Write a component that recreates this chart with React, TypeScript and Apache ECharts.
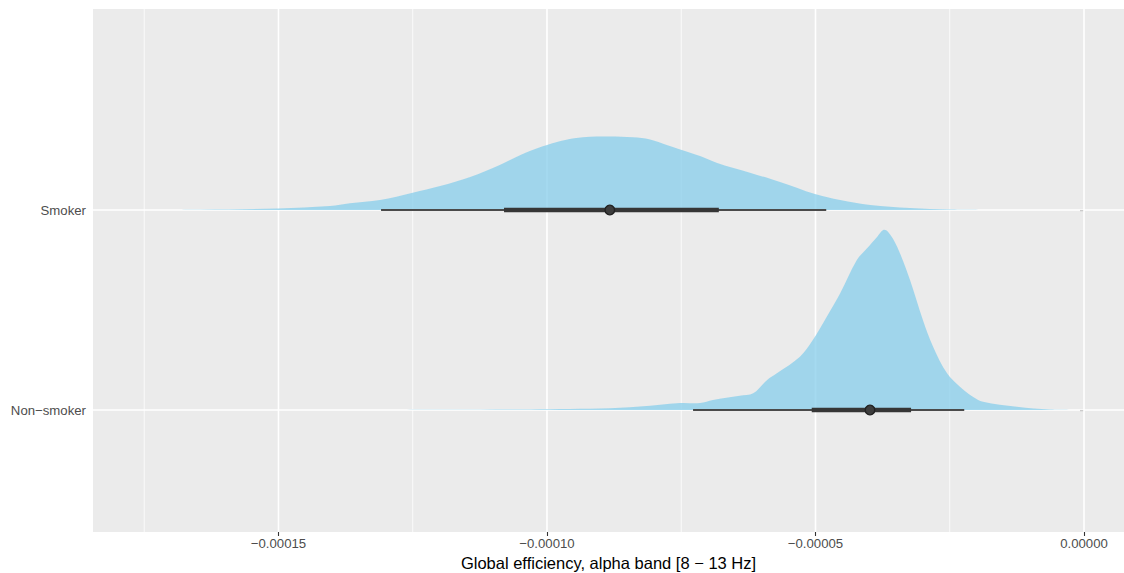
import React, { useEffect, useRef } from "react";
import * as echarts from "echarts";

// Values on the x axis are in units of 1e-5.
const categories = ["Non−smoker", "Smoker"];
const categoryPos = [1, 2];

const xMajorTicks = [-15, -10, -5, 0];
const xMinorTicks = [-17.5, -12.5, -7.5, -2.5];

// Smoker density (x in 1e-5, height in category units)
const smokerX = [-17.21, -16.46, -15.01, -14.04, -13.67, -13.11, -12.5, -11.99, -11.43, -10.88, -10.41, -10.0, -9.66, -9.33, -8.83, -8.4, -8.08, -7.77, -7.49, -7.15, -6.83, -6.22, -5.66, -5.01, -4.54, -3.98, -3.24, -2.5, -1.84];
const smokerH = [0, 0.001, 0.0075, 0.02, 0.0335, 0.05, 0.0865, 0.12, 0.165, 0.225, 0.285, 0.325, 0.35, 0.3635, 0.3675, 0.3635, 0.3525, 0.325, 0.3, 0.27, 0.235, 0.1865, 0.14, 0.08, 0.05, 0.025, 0.01, 0.0025, 0];

// Non-smoker density
const nonSmokerX = [-12.92, -11.81, -10.5, -9.76, -9.01, -8.27, -7.52, -7.15, -6.91, -6.41, -6.16, -5.9, -5.72, -5.29, -5.05, -4.79, -4.54, -4.23, -4.04, -3.85, -3.74, -3.65, -3.48, -3.24, -3.0, -2.81, -2.55, -2.31, -2.07, -1.88, -1.25, -0.63, 0];
const nonSmokerH = [0, 0.001, 0.0025, 0.005, 0.0075, 0.0175, 0.035, 0.035, 0.05, 0.0715, 0.0835, 0.15, 0.1835, 0.2665, 0.35, 0.4665, 0.5835, 0.75, 0.8085, 0.8665, 0.9, 0.8915, 0.8165, 0.65, 0.45, 0.3165, 0.1835, 0.1165, 0.0665, 0.0415, 0.0165, 0.0025, 0];

// Point + interval summaries, order: Non-smoker, Smoker
const medians = [-3.985, -8.83];
const outerLow = [-7.28, -13.09];
const outerHigh = [-2.23, -4.8];
const innerLow = [-5.07, -10.8];
const innerHigh = [-3.22, -6.8];

const X_MIN = -18.454;
const X_MAX = 0.745;
const Y_MIN = 0.39;
const Y_MAX = 3.005;

const fmtX = (v: number) => (v * 1e-5).toFixed(5).replace("-", "−");

export default function App() {
  const ref = useRef<HTMLDivElement>(null);
  useEffect(() => {
    if (!ref.current) return;
    const chart = echarts.init(ref.current, null, { renderer: "svg" });

    const gridData: number[][] = [];
    xMajorTicks.forEach((v) => gridData.push([0, v, 1]));
    xMinorTicks.forEach((v) => gridData.push([0, v, 0]));
    categoryPos.forEach((v) => gridData.push([1, v, 1]));

    const densitySeries = (xs: number[], hs: number[], base: number) => ({
      type: "custom",
      z: 2,
      silent: true,
      clip: true,
      data: [[xs[0], base]],
      renderItem: (params: any, api: any) => {
        const cs = params.coordSys;
        const pts: number[][] = xs.map((x, i) => api.coord([x, base + hs[i]]));
        const baseY = api.coord([xs[0], base])[1];
        return {
          type: "polygon",
          shape: {
            points: pts,
            smooth: 0.35,
            smoothConstraint: [
              [cs.x, cs.y],
              [cs.x + cs.width, baseY],
            ],
          },
          style: { fill: "rgba(135,206,235,0.75)" },
        };
      },
    });

    const option: any = {
      animation: false,
      backgroundColor: "#ffffff",
      grid: {
        left: 93,
        right: 0,
        top: 9,
        bottom: 41,
        outerBoundsMode: "none",
        containLabel: false,
        show: true,
        backgroundColor: "#EBEBEB",
        borderWidth: 0,
      },
      xAxis: {
        type: "value",
        min: X_MIN,
        max: X_MAX,
        name: "Global efficiency, alpha band [8 − 13 Hz]",
        nameLocation: "middle",
        nameGap: 21,
        nameTextStyle: { fontSize: 16.5, color: "#000000", fontFamily: "Liberation Sans" },
        axisLine: { show: false },
        splitLine: { show: false },
        axisTick: {
          show: true,
          length: 4,
          lineStyle: { color: "#333333", width: 1.1 },
          customValues: xMajorTicks,
        },
        axisLabel: {
          customValues: xMajorTicks,
          formatter: fmtX,
          margin: 5,
          fontSize: 13.2,
          color: "#4D4D4D",
          fontFamily: "Liberation Sans",
        },
      },
      yAxis: {
        type: "value",
        min: Y_MIN,
        max: Y_MAX,
        axisLine: { show: false },
        splitLine: { show: false },
        axisTick: {
          show: true,
          length: 4,
          lineStyle: { color: "#333333", width: 1.1 },
          customValues: categoryPos,
        },
        axisLabel: {
          customValues: categoryPos,
          formatter: (v: number) => {
            const i = categoryPos.indexOf(Math.round(v));
            return i >= 0 ? categories[i] : "";
          },
          margin: 7,
          fontSize: 13.2,
          color: "#4D4D4D",
          fontFamily: "Liberation Sans",
        },
      },
      series: [
        {
          type: "custom",
          z: 1,
          silent: true,
          data: gridData,
          renderItem: (params: any, api: any) => {
            const cs = params.coordSys;
            const kind = api.value(0);
            const v = api.value(1);
            const major = api.value(2) === 1;
            let shape;
            if (kind === 0) {
              const x = api.coord([v, Y_MIN])[0];
              shape = { x1: x, y1: cs.y, x2: x, y2: cs.y + cs.height };
            } else {
              const y = api.coord([X_MIN, v])[1];
              shape = { x1: cs.x, y1: y, x2: cs.x + cs.width, y2: y };
            }
            return {
              type: "line",
              shape,
              style: { stroke: "#FFFFFF", lineWidth: major ? 1.6 : 0.8 },
            };
          },
        },
        densitySeries(smokerX, smokerH, 2),
        densitySeries(nonSmokerX, nonSmokerH, 1),
        {
          type: "custom",
          z: 3,
          silent: true,
          data: categoryPos.map((p, i) => [medians[i], p, i]),
          renderItem: (params: any, api: any) => {
            const i = api.value(2);
            const base = categoryPos[i];
            const o1 = api.coord([outerLow[i], base]);
            const o2 = api.coord([outerHigh[i], base]);
            const i1 = api.coord([innerLow[i], base]);
            const i2 = api.coord([innerHigh[i], base]);
            const m = api.coord([medians[i], base]);
            return {
              type: "group",
              children: [
                {
                  type: "line",
                  shape: { x1: o1[0], y1: o1[1], x2: o2[0], y2: o2[1] },
                  style: { stroke: "#4a4a4a", lineWidth: 2 },
                },
                {
                  type: "line",
                  shape: { x1: i1[0], y1: i1[1], x2: i2[0], y2: i2[1] },
                  style: { stroke: "#363636", lineWidth: 4.6 },
                },
                {
                  type: "circle",
                  shape: { cx: m[0], cy: m[1], r: 4.8 },
                  style: { fill: "#3d3d3d", stroke: "#222222", lineWidth: 1.4 },
                },
              ],
            };
          },
        },
      ],
    };

    chart.setOption(option);
    return () => chart.dispose();
  }, []);

  return (
    <div
      ref={ref}
      style={{ position: "fixed", left: 0, top: 0, width: 1124, height: 573 }}
    />
  );
}
